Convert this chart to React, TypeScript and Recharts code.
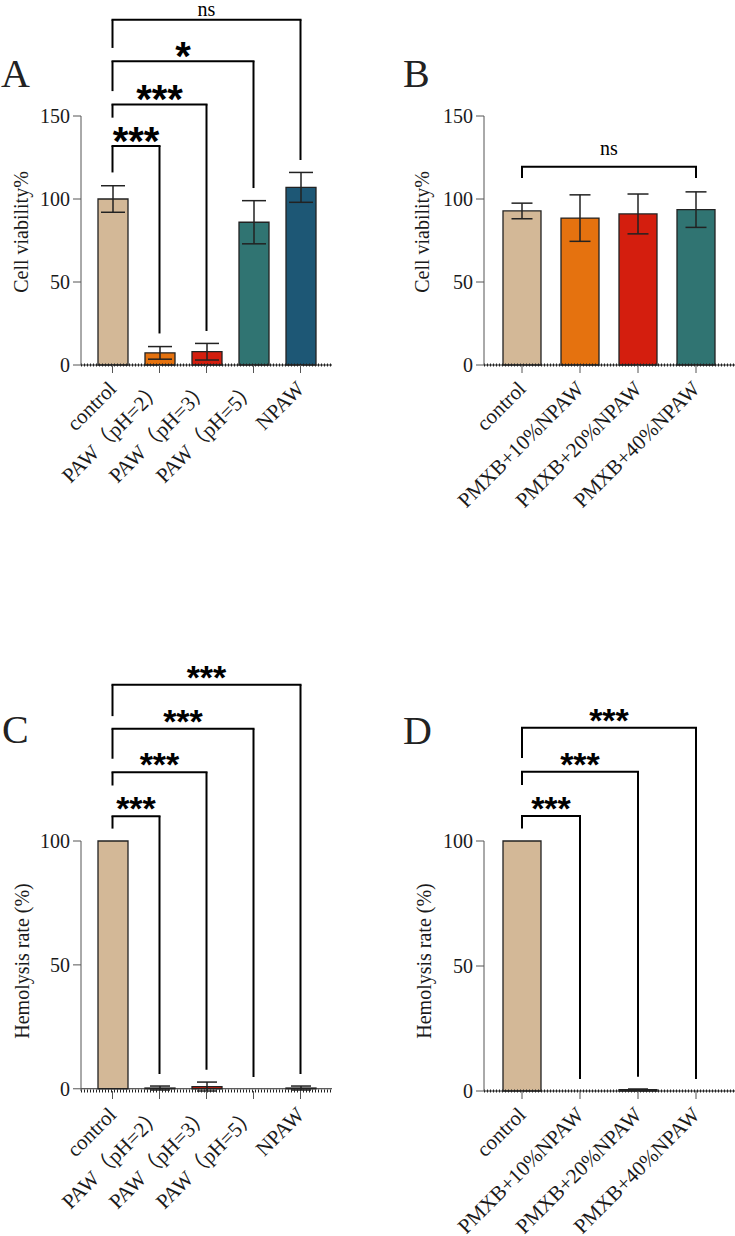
import React from 'react';
import { BarChart, Bar, XAxis, YAxis, ErrorBar, ReferenceLine, Cell } from 'recharts';

const SERIF = '"Liberation Serif", "Times New Roman", "Noto Sans CJK SC", serif';
const SANS = '"Liberation Sans", Arial, sans-serif';
const INK = '#1a1a1a';

// ---- data ----
const groupsAC = ['control', 'PAW（pH=2）', 'PAW（pH=3）', 'PAW（pH=5）', 'NPAW'];
const groupsBD = ['control', 'PMXB+10%NPAW', 'PMXB+20%NPAW', 'PMXB+40%NPAW'];
const colorsAC = ['#D3B897', '#E5720F', '#D41E0E', '#307472', '#1D5775'];
const colorsBD = ['#D3B897', '#E5720F', '#D41E0E', '#307472'];

const viabilityA = [100, 7.3, 8, 86, 107];
const viabilityASd = [8, 3.8, 5, 13, 9];
const viabilityB = [92.8, 88.5, 91, 93.6];
const viabilityBSd = [4.7, 14, 12, 10.7];
const hemolysisC = [100, 0.3, 0.9, 0, 0.3];
const hemolysisCSd = [0, 0.8, 1.8, 0, 0.8];
const hemolysisD = [100, 0, 0.5, 0, 0];
const hemolysisDSd = [0, 0, 0.3, 0, 0];

const ticksViability = [0, 50, 100, 150];
const ticksHemolysis = [0, 50, 100];

type Bracket = { to: number; top: number; left: number; right: number; label: string };

const bracketsA: Bracket[] = [
  { to: 1, top: 132, left: 116, right: 19, label: '***' },
  { to: 2, top: 157, left: 149, right: 20.5, label: '***' },
  { to: 3, top: 183, left: 165, right: 106.6, label: '*' },
  { to: 4, top: 208, left: 191, right: 123.5, label: 'ns' },
];
const bracketsB: Bracket[] = [{ to: 3, top: 119.5, left: 112.6, right: 112.6, label: 'ns' }];
const bracketsC: Bracket[] = [
  { to: 1, top: 110, left: 105, right: 6, label: '***' },
  { to: 2, top: 127.7, left: 122.4, right: 7.7, label: '***' },
  { to: 3, top: 145.3, left: 133.2, right: 4.8, label: '***' },
  { to: 4, top: 163.1, left: 150.4, right: 6, label: '***' },
];
const bracketsD: Bracket[] = [
  { to: 1, top: 110, left: 105, right: 4.8, label: '***' },
  { to: 2, top: 127.7, left: 122.4, right: 5.7, label: '***' },
  { to: 3, top: 145.3, left: 133.2, right: 4.8, label: '***' },
];

const build = (cats: string[], vals: number[], sd: number[]) =>
  cats.map((name, i) => ({ name, value: vals[i], err: sd[i] }));

const RotTick = (props: any) => {
  const { x, y, payload } = props;
  return (
    <text
      x={0}
      y={0}
      transform={`translate(${x + 5},${y + 15}) rotate(-45)`}
      textAnchor="end"
      fontFamily={SERIF}
      fontSize={21}
      fill={INK}
    >
      {payload.value}
    </text>
  );
};

const makeYLabel = (text: string, cx: number, cy: number) => () => (
  <text
    x={cx}
    y={cy}
    transform={`rotate(-90 ${cx} ${cy})`}
    textAnchor="middle"
    dominantBaseline="central"
    fontFamily={SERIF}
    fontSize={20}
    fill={INK}
  >
    {text}
  </text>
);

function renderBrackets(cats: string[], brackets: Bracket[], starSize: number, starOffset: number, nsOffset: number) {
  const out: any[] = [];
  brackets.forEach((b, k) => {
    const x0 = cats[0];
    const x1 = cats[b.to];
    const isNs = b.label === 'ns';
    out.push(
      <ReferenceLine
        key={`h${k}`}
        segment={[{ x: x0, y: b.top }, { x: x1, y: b.top }]}
        ifOverflow="visible"
        stroke="#000"
        strokeWidth={2}
        strokeLinecap="square"
        label={{
          value: b.label,
          position: 'top',
          offset: isNs ? nsOffset : starOffset,
          fill: '#000',
          fontSize: isNs ? 20 : starSize,
          fontWeight: isNs ? 'normal' : 'bold',
          fontFamily: isNs ? SERIF : SANS,
        }}
      />
    );
    out.push(
      <ReferenceLine
        key={`l${k}`}
        segment={[{ x: x0, y: b.left }, { x: x0, y: b.top }]}
        ifOverflow="visible"
        stroke="#000"
        strokeWidth={2}
      />
    );
    out.push(
      <ReferenceLine
        key={`r${k}`}
        segment={[{ x: x1, y: b.right }, { x: x1, y: b.top }]}
        ifOverflow="visible"
        stroke="#000"
        strokeWidth={2}
      />
    );
  });
  return out;
}

type PanelProps = {
  cats: string[];
  vals: number[];
  sd: number[];
  colors: string[];
  domain: [number, number];
  ticks: number[];
  yTitle: string;
  yTitlePos: [number, number];
  brackets: Bracket[];
  width: number;
  height: number;
  marginTop: number;
  marginRight: number;
  yWidth: number;
  xHeight: number;
  padL: number;
  padR: number;
  barSize: number;
  errWidth: number;
  starSize: number;
  starOffset: number;
  nsOffset: number;
};

function Panel(p: PanelProps) {
  const data = build(p.cats, p.vals, p.sd);
  return (
    <BarChart
      width={p.width}
      height={p.height}
      data={data}
      margin={{ top: p.marginTop, right: p.marginRight, left: 0, bottom: 0 }}
      barSize={p.barSize}
    >
      <XAxis
        dataKey="name"
        type="category"
        interval={0}
        height={p.xHeight}
        padding={{ left: p.padL, right: p.padR }}
        axisLine={{ stroke: '#222', strokeWidth: 3, strokeDasharray: '1 2' }}
        tickLine={{ stroke: '#555', strokeWidth: 1 }}
        tickSize={8}
        tick={<RotTick />}
      />
      <YAxis
        type="number"
        domain={p.domain}
        ticks={p.ticks}
        width={p.yWidth}
        interval={0}
        axisLine={{ stroke: '#555', strokeWidth: 1 }}
        tickLine={{ stroke: '#555', strokeWidth: 1 }}
        tickSize={8}
        tickMargin={3}
        tick={{ fill: INK, fontSize: 20, fontFamily: SERIF }}
        label={{ content: makeYLabel(p.yTitle, p.yTitlePos[0], p.yTitlePos[1]) }}
      />
      <ReferenceLine y={0} stroke="#222" strokeWidth={1} ifOverflow="visible" />
      <Bar dataKey="value" stroke="#222" strokeWidth={1.3} isAnimationActive={false}>
        {data.map((d, i) => (
          <Cell key={d.name} fill={p.colors[i]} />
        ))}
        <ErrorBar dataKey="err" width={p.errWidth} stroke="#222" strokeWidth={1.5} />
      </Bar>
      {renderBrackets(p.cats, p.brackets, p.starSize, p.starOffset, p.nsOffset)}
    </BarChart>
  );
}

export default function App() {
  return (
    <div style={{ position: 'absolute', left: 0, top: 0, width: 735, height: 1236, background: '#fff', overflow: 'hidden' }}>
      <div style={{ position: 'absolute', left: 0, top: 0 }}>
        <Panel
          cats={groupsAC} vals={viabilityA} sd={viabilityASd} colors={colorsAC}
          domain={[0, 150]} ticks={ticksViability} yTitle="Cell viability%" yTitlePos={[21, 232]}
          brackets={bracketsA} width={367} height={530} marginTop={116} marginRight={35}
          yWidth={81} xHeight={165} padL={8} padR={8} barSize={30} errWidth={12}
          starSize={40} starOffset={-9} nsOffset={4}
        />
      </div>
      <div style={{ position: 'absolute', left: 367, top: 0 }}>
        <Panel
          cats={groupsBD} vals={viabilityB} sd={viabilityBSd} colors={colorsBD}
          domain={[0, 150]} ticks={ticksViability} yTitle="Cell viability%" yTitlePos={[55, 232]}
          brackets={bracketsB} width={368} height={530} marginTop={116} marginRight={0}
          yWidth={117} xHeight={165} padL={9} padR={10} barSize={38} errWidth={10.5}
          starSize={40} starOffset={-9} nsOffset={11.7}
        />
      </div>
      <div style={{ position: 'absolute', left: 0, top: 640 }}>
        <Panel
          cats={groupsAC} vals={hemolysisC} sd={hemolysisCSd} colors={colorsAC}
          domain={[0, 100]} ticks={ticksHemolysis} yTitle="Hemolysis rate (%)" yTitlePos={[22, 321]}
          brackets={bracketsC} width={367} height={596} marginTop={201} marginRight={35}
          yWidth={81} xHeight={145} padL={8} padR={8} barSize={30} errWidth={10}
          starSize={34} starOffset={-4} nsOffset={9}
        />
      </div>
      <div style={{ position: 'absolute', left: 367, top: 640 }}>
        <Panel
          cats={groupsBD} vals={hemolysisD} sd={hemolysisDSd} colors={colorsBD}
          domain={[0, 100]} ticks={ticksHemolysis} yTitle="Hemolysis rate (%)" yTitlePos={[57, 321]}
          brackets={bracketsD} width={368} height={596} marginTop={201} marginRight={0}
          yWidth={117} xHeight={145} padL={9} padR={10} barSize={38} errWidth={10}
          starSize={34} starOffset={-4} nsOffset={9}
        />
      </div>
      <svg width={735} height={1236} style={{ position: 'absolute', left: 0, top: 0, pointerEvents: 'none' }}>
        <text x={1} y={87} fontFamily={SERIF} fontSize={40} fill="#222">A</text>
        <text x={403} y={87} fontFamily={SERIF} fontSize={40} fill="#222">B</text>
        <text x={2} y={743} fontFamily={SERIF} fontSize={40} fill="#222">C</text>
        <text x={403} y={744} fontFamily={SERIF} fontSize={40} fill="#222">D</text>
      </svg>
    </div>
  );
}
